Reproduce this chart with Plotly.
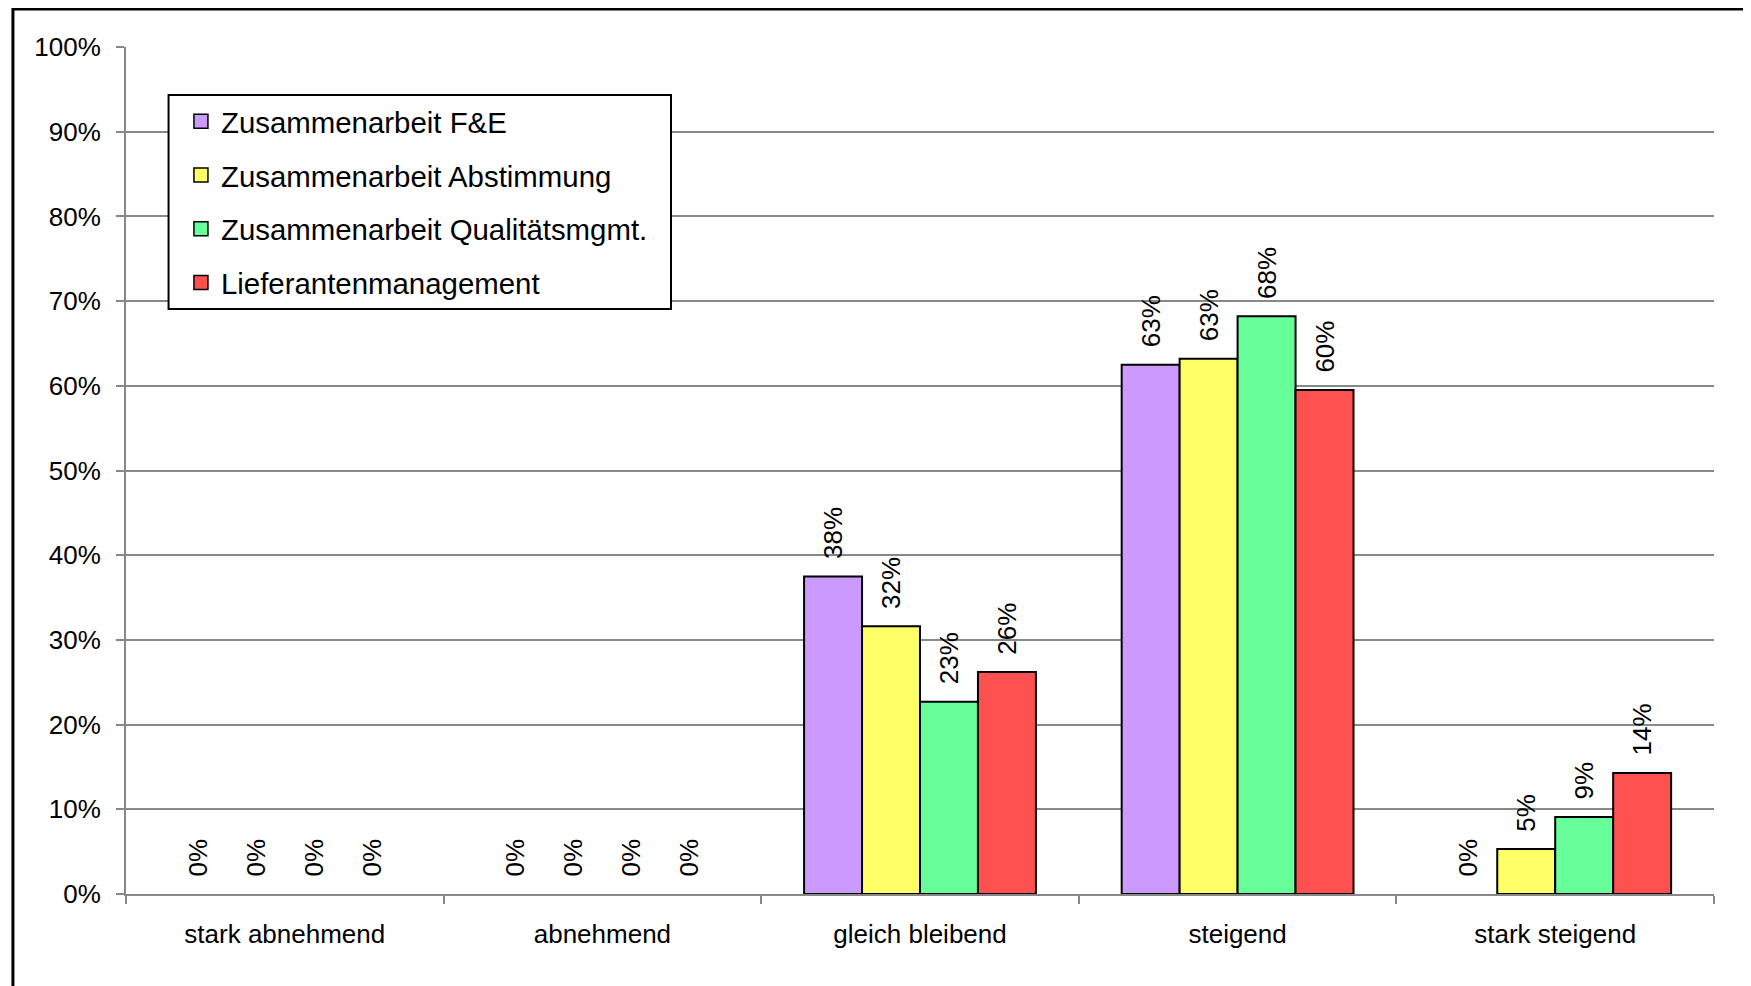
import plotly.graph_objects as go

categories = ["stark abnehmend", "abnehmend", "gleich bleibend", "steigend", "stark steigend"]
series_names = ["Zusammenarbeit F&E", "Zusammenarbeit Abstimmung",
                "Zusammenarbeit Qualitätsmgmt.", "Lieferantenmanagement"]
vals_fe = [0.0, 0.0, 37.5, 62.5, 0.0]
vals_abst = [0.0, 0.0, 31.6, 63.2, 5.3]
vals_qm = [0.0, 0.0, 22.7, 68.2, 9.1]
vals_lief = [0.0, 0.0, 26.2, 59.5, 14.3]
colors = ["#CC99FF", "#FFFF66", "#66FF99", "#FF5050"]
y_ticks = [0, 10, 20, 30, 40, 50, 60, 70, 80, 90, 100]

FONT = "Arial, Liberation Sans, sans-serif"
NB = "\u00a0"

fig = go.Figure()
for name, vals, col in zip(series_names, [vals_fe, vals_abst, vals_qm, vals_lief], colors):
    fig.add_trace(go.Bar(
        x=categories, y=[v / 100 for v in vals], name=name, legendgroup=name,
        showlegend=False,
        marker=dict(color=col, line=dict(color="black", width=[2 if v > 0 else 0 for v in vals])),
        text=[NB * 2 + f"{int(v + 0.5)}%" for v in vals],
        textposition="outside", textangle=-90, cliponaxis=False, constraintext="none",
        textfont=dict(family=FONT, size=26, color="black"),
    ))
# legend entries (square swatches)
for name, col in zip(series_names, colors):
    fig.add_trace(go.Scatter(
        x=[None], y=[None], mode="markers", name=name, legendgroup=name,
        marker=dict(symbol="square", size=14, color=col, line=dict(color="black", width=1.5)),
    ))

fig.update_layout(
    width=1743, height=978,
    margin=dict(l=118, r=37, t=39, b=92),
    paper_bgcolor="white", plot_bgcolor="white",
    barmode="group", bargap=0.27, bargroupgap=0,
    font=dict(family=FONT, size=26, color="black"),
    legend=dict(
        x=0.0346, y=0.9425, xanchor="left", yanchor="top",
        bgcolor="rgba(0,0,0,0)", borderwidth=0,
        font=dict(family=FONT, size=29.4, color="black"),
        traceorder="grouped", tracegroupgap=12.5, itemwidth=30,
    ),
    showlegend=True,
)
fig.update_xaxes(
    showline=True, linecolor="#888888", linewidth=2,
    ticks="outside", tickson="boundaries", ticklen=8, tickcolor="#888888", tickwidth=2,
    tickfont=dict(family=FONT, size=26, color="black"), ticklabelstandoff=16,
    showgrid=False,
)
fig.update_yaxes(
    range=[0, 1], tickvals=[t / 100 for t in y_ticks], ticktext=[f"{t}%" for t in y_ticks],
    showline=True, linecolor="#888888", linewidth=2,
    ticks="outside", ticklen=8, tickcolor="#888888", tickwidth=2,
    showgrid=True, gridcolor="#888888", gridwidth=2, zeroline=False,
    tickfont=dict(family=FONT, size=26, color="black"), ticklabelstandoff=10,
)
# outer chart frame
fig.add_shape(type="rect", xref="paper", yref="paper",
              x0=-0.0712, x1=1.5, y0=-1.0, y1=1.0449,
              line=dict(color="black", width=3), fillcolor="rgba(0,0,0,0)", layer="below")
# legend frame
fig.add_shape(type="rect", xref="paper", yref="paper",
              x0=0.0268, x1=0.3432, y0=0.6907, y1=0.9433,
              line=dict(color="black", width=2), fillcolor="white", layer="above")

fig.write_html("out.html")
